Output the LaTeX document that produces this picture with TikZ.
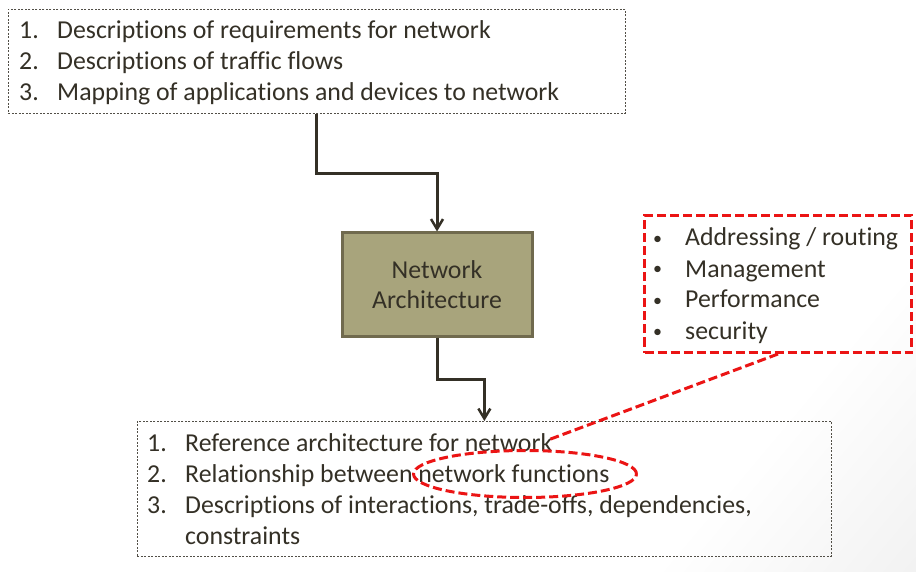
\documentclass[tikz,border=0pt]{standalone}
\usepackage{fontspec}
\setmainfont[Ligatures={NoCommon}]{Carlito}
\usetikzlibrary{arrows.meta,shapes.geometric}
\definecolor{ink}{RGB}{52,48,38}
\definecolor{boxfill}{RGB}{168,164,124}
\definecolor{boxline}{RGB}{112,106,78}
\definecolor{redc}{RGB}{235,20,20}
\pgfdeclarehorizontalshading{bgshade}{100bp}{color(0bp)=(white); color(72bp)=(white); color(90bp)=(black!7); color(100bp)=(black!10)}
\tikzset{
  txt/.style={anchor=base west, inner sep=0pt, text=ink, font=\fontsize{25.8}{30}\selectfont},
  bul/.style={anchor=base west, inner sep=0pt, text=ink, font=\fontsize{18}{30}\selectfont},
  thinbox/.style={draw=ink!85, line width=0.7pt, dash pattern=on 2pt off 1.5pt, anchor=north west, inner sep=0pt},
  archbox/.style={draw=boxline, fill=boxfill, line width=3pt, text=ink, align=center, font=\fontsize{25.8}{30}\selectfont, minimum width=190pt, minimum height=103pt, inner sep=0pt},
  redbox/.style={draw=redc, line width=3pt, dash pattern=on 9pt off 4pt, anchor=north west, inner sep=0pt},
  flow/.style={draw=ink, line width=3pt, -{Straight Barb[length=10pt,width=12pt,line width=2.5pt]}},
  reddash/.style={draw=redc, line width=3pt, dash pattern=on 9pt off 4pt},
}
\begin{document}
\begin{tikzpicture}[x=1pt,y=-1pt]
\useasboundingbox (0,0) rectangle (916,572);
\shade[shading=bgshade, shading angle=-40] (0,0) rectangle (916,572);
% top box
\node[thinbox, minimum width=617pt, minimum height=104pt] (top) at (8,9) {};
\node[txt] (t1n) at (19,39) {1.};
\node[txt] (t1) at (57,39) {Descriptions of requirements for network};
\node[txt] (t2n) at (19,70) {2.};
\node[txt] (t2) at (57,70) {Descriptions of traffic flows};
\node[txt] (t3n) at (19,101) {3.};
\node[txt] (t3) at (57,101) {Mapping of applications and devices to network};
% middle box
\node[archbox] (mid) at (437,284.5) {Network\\Architecture};
% red box
\node[redbox, minimum width=267pt, minimum height=137pt] (red) at (643,214) {};
\node[bul] (r1b) at (653,244) {•};
\node[txt] (r1) at (685,246) {Addressing / routing};
\node[bul] (r2b) at (653,275) {•};
\node[txt] (r2) at (685,277) {Management};
\node[bul] (r3b) at (653,306) {•};
\node[txt] (r3) at (685,308) {Performance};
\node[bul] (r4b) at (653,337) {•};
\node[txt] (r4) at (685,339) {security};
% bottom box
\node[thinbox, minimum width=694pt, minimum height=135pt] (bot) at (137,421) {};
\node[txt] (b1n) at (147,451) {1.};
\node[txt] (b1) at (185,451) {Reference architecture for network};
\node[txt] (b2n) at (147,482) {2.};
\node[txt] (b2) at (185,482) {Relationship between network functions};
\node[txt] (b3n) at (147,513) {3.};
\node[txt] (b3) at (185,513) {Descriptions of interactions, trade-offs, dependencies,};
\node[txt] (b4) at (185,544) {constraints};
% connectors
\draw[flow] (top.south) -- ++(0,60) -| (mid.north);
\draw[flow] (mid.south) -- ++(0,42) -| (bot.north);
% ellipse and red line
\node[ellipse, reddash, minimum width=223pt, minimum height=47pt, inner sep=0pt] (ell) at (525,474) {};
\coordinate (redend) at (548,440);
\draw[reddash] (red.south) -- (redend);
\end{tikzpicture}
\end{document}
